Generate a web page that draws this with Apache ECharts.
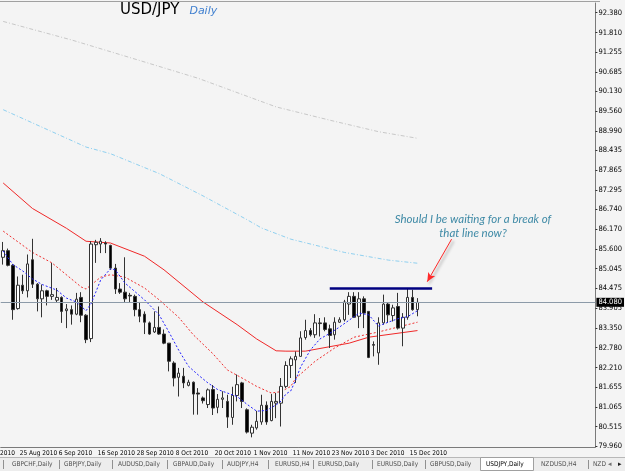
<!DOCTYPE html>
<html>
<head>
<meta charset="utf-8">
<title>USD/JPY Daily</title>
<script src="https://cdn.jsdelivr.net/npm/echarts@6/dist/echarts.min.js"></script>
<style>
    html, body { margin: 0; padding: 0; background: #f4f4f4; }
    #main { width: 625px; height: 471px; }
</style>
</head>
<body>
<div id="main"></div>
<script>
// trading days, 20 Aug .. 17 Dec 2010
const augDays = [20, 23, 24, 25, 26, 27, 30, 31];
const sepDays = [1, 2, 3, 6, 7, 8, 9, 10, 13, 14, 15, 16, 17, 20, 21, 22, 23, 24, 27, 28, 29, 30];
const octDays = [1, 4, 5, 6, 7, 8, 11, 12, 13, 14, 15, 18, 19, 20, 21, 22, 25, 26, 27, 28, 29];
const novDays = [1, 2, 3, 4, 5, 8, 9, 10, 11, 12, 15, 16, 17, 18, 19, 22, 23, 24, 25, 26, 29, 30];
const decDays = [1, 2, 3, 6, 7, 8, 9, 10, 13, 14, 15, 16, 17];
const emptySlots = 36;   // chart shift on the right

const opens = [85.37, 85.56, 85.14, 83.90, 84.57, 84.41, 85.30, 84.60, 84.18, 84.41,
    84.25, 84.14, 84.22, 83.84, 83.87, 83.74, 84.22, 83.71, 83.04, 85.73,
    85.75, 85.78, 85.71, 85.06, 84.46, 84.37, 84.28, 84.25, 83.87, 83.74,
    83.49, 83.23, 83.36, 83.17, 82.91, 82.34, 81.93, 81.96, 81.70, 81.79,
    81.48, 81.34, 81.15, 81.58, 81.07, 81.30, 81.24, 80.78, 81.41, 81.77,
    81.00, 80.33, 80.48, 80.65, 81.13, 80.69, 81.19, 81.19, 81.67, 82.27,
    82.43, 82.53, 83.07, 83.27, 83.15, 83.49, 83.49, 83.32, 83.15, 83.51,
    83.58, 84.03, 84.25, 83.68, 84.18, 83.82, 82.87, 82.63, 83.49, 84.03,
    83.70, 83.96, 83.34, 83.65, 84.22, 83.87];
const closes = [85.56, 85.14, 83.87, 84.57, 84.41, 85.18, 84.60, 84.18, 84.41, 84.25,
    84.30, 84.22, 83.82, 83.89, 83.74, 84.17, 83.71, 83.01, 85.75, 85.80,
    85.83, 85.75, 85.06, 84.46, 84.37, 84.18, 84.26, 83.87, 83.68, 83.51,
    83.17, 83.36, 83.17, 82.91, 82.39, 81.91, 82.05, 81.77, 81.79, 81.45,
    81.45, 81.26, 81.57, 81.05, 81.30, 81.34, 80.79, 81.41, 81.72, 81.24,
    80.36, 80.50, 80.67, 81.13, 80.65, 81.24, 81.24, 81.67, 82.27, 82.46,
    82.53, 83.06, 83.27, 83.15, 83.49, 83.47, 83.30, 83.13, 83.51, 83.58,
    84.09, 84.25, 83.65, 84.18, 83.77, 82.50, 82.85, 83.49, 84.03, 83.72,
    83.92, 83.34, 83.65, 84.22, 83.87, 84.08];
const lows = [85.16, 85.11, 83.58, 83.87, 84.32, 84.22, 84.49, 83.82, 83.65, 83.99,
    84.15, 84.06, 83.49, 83.34, 83.44, 83.71, 83.51, 82.91, 82.94, 85.21,
    85.49, 85.49, 85.01, 84.32, 84.32, 84.09, 84.09, 83.68, 83.51, 83.17,
    83.15, 83.20, 83.15, 82.88, 82.10, 81.67, 81.38, 81.62, 81.67, 80.86,
    80.86, 81.18, 81.05, 80.85, 80.90, 81.05, 80.48, 80.57, 81.24, 81.05,
    80.32, 80.21, 80.43, 80.57, 80.57, 80.67, 80.76, 80.52, 81.62, 81.91,
    81.77, 82.53, 83.01, 83.10, 83.06, 83.10, 83.25, 82.77, 83.01, 83.49,
    83.53, 83.72, 83.63, 83.34, 83.34, 82.48, 82.53, 82.29, 83.44, 83.49,
    83.53, 83.30, 82.82, 83.58, 83.84, 83.68];
const highs = [85.81, 85.62, 85.18, 84.82, 84.87, 85.45, 85.90, 84.63, 84.59, 84.44,
    85.21, 84.49, 84.25, 84.03, 83.99, 84.35, 84.37, 83.74, 85.83, 85.87,
    85.92, 85.83, 85.73, 85.18, 84.63, 85.37, 84.35, 84.30, 84.09, 83.82,
    83.53, 83.82, 83.96, 83.30, 82.91, 82.39, 82.20, 82.20, 81.86, 81.81,
    81.62, 81.38, 81.61, 81.71, 81.45, 81.53, 81.43, 81.66, 82.01, 81.80,
    81.04, 80.57, 80.97, 81.43, 81.24, 81.45, 81.48, 81.91, 82.39, 82.53,
    82.67, 83.25, 83.58, 83.34, 83.74, 83.63, 83.65, 83.44, 83.65, 83.65,
    84.15, 84.37, 84.37, 84.37, 84.25, 83.82, 82.96, 83.65, 84.30, 84.06,
    84.01, 84.35, 83.77, 84.47, 84.44, 84.20];

// moving averages: [bar index from 20 Aug, value]
const maFast = [[0, 85.55], [2, 85.16], [4, 84.98], [6, 84.75], [8, 84.59], [11, 84.43],
    [13, 84.20], [15, 84.09], [17, 83.84], [18, 84.03], [19, 84.37], [20, 84.72],
    [22, 85.04], [23, 85.01], [25, 84.63], [27, 84.39], [29, 84.15], [32, 83.72],
    [34, 83.23], [36, 82.71], [38, 82.25], [40, 82.00], [42, 81.77], [44, 81.58],
    [46, 81.48], [48, 81.38], [50, 81.16], [52, 80.96], [54, 80.98], [56, 81.14],
    [57, 81.25], [58, 81.45], [59, 81.54], [60, 81.85], [61, 82.22], [63, 82.71],
    [65, 83.03], [67, 83.19], [69, 83.37], [71, 83.57], [73, 83.77], [75, 83.72],
    [77, 83.40], [79, 83.51], [81, 83.61], [83, 83.67], [85, 83.84]];
const maMid = [[0, 86.12], [6, 85.51], [10, 85.21], [16, 84.52], [17, 84.46], [20, 84.80],
    [22, 84.87], [25, 84.80], [29, 84.49], [32, 84.15], [36, 83.65], [39, 83.15],
    [43, 82.61], [46, 82.14], [49, 81.91], [52, 81.67], [55, 81.48], [57, 81.52],
    [59, 81.67], [60, 81.90], [64, 82.39], [68, 82.77], [72, 83.08], [77, 83.23],
    [85, 83.51]];
const maSlow = [[0, 87.50], [6, 86.77], [13, 86.20], [17, 85.83], [22, 85.78], [29, 85.40],
    [33, 85.01], [41, 84.09], [48, 83.44], [52, 83.03], [56, 82.69], [58, 82.68],
    [62, 82.68], [71, 82.91], [75, 83.08], [85, 83.27]];
const ma100 = [[0, 89.60], [17, 88.53], [22, 88.34], [32, 87.77], [41, 87.13], [50, 86.45],
    [53, 86.21], [59, 85.89], [70, 85.51], [79, 85.29], [85, 85.20]];
const ma200 = [[0, 92.13], [14, 91.60], [28, 91.01], [40, 90.50], [56, 89.68], [67, 89.30],
    [77, 88.97], [85, 88.78]];

const priceTicks = [92.380, 91.810, 91.255, 90.685, 90.130, 89.560, 88.990, 88.435,
    87.865, 87.295, 86.740, 86.170, 85.600, 85.045, 84.475, 83.905, 83.350,
    82.780, 82.210, 81.655, 81.065, 80.515, 79.960];
const lastPrice = 84.080;
const resistance = 84.47;

const tabNames = ["GBPCHF,Daily", "GBPJPY,Daily", "AUDUSD,Daily", "GBPAUD,Daily", "AUDJPY,H4",
    "EURUSD,H4", "EURUSD,Daily", "EURUSD,Daily", "GBPUSD,Daily", "USDJPY,Daily", "NZDUSD,H4", "NZD"];

let dates = [];
augDays.forEach(d => dates.push(d + " Aug 2010"));
sepDays.forEach(d => dates.push(d + " Sep 2010"));
octDays.forEach(d => dates.push(d + " Oct 2010"));
novDays.forEach(d => dates.push(d + " Nov 2010"));
decDays.forEach(d => dates.push(d + " Dec 2010"));
const realBars = dates.length;
for (let i = 0; i < emptySlots; i++) {
    dates.push("shift" + i);
}

let candleData = [];
for (let i = 0; i < opens.length; i++) {
    candleData.push([opens[i], closes[i], lows[i], highs[i]]);
}

function maSeries(points) {
    let arr = dates.map(() => null);
    points.forEach(p => { arr[p[0]] = p[1]; });
    return arr;
}

const smallFont = "'Liberation Sans Narrow', 'DejaVu Sans Condensed', sans-serif";
// MT4 puts a date every 8 bars, 25 Aug is bar 3
const showLabel = (idx) => (idx - 3) % 8 === 0 && idx < realBars;

let tabEls = [];
const tabX = [12, 64, 118, 173, 227, 275, 318, 377, 430, 486, 541, 593];
const sepX = [3, 59, 112, 167, 222, 268, 313, 372, 425, 588];
tabEls.push({ type: "rect", shape: { x: 0, y: 457, width: 625, height: 14 }, style: { fill: "#ededed" } });
tabEls.push({ type: "line", shape: { x1: 0, y1: 457.5, x2: 625, y2: 457.5 }, style: { stroke: "#b8b8b8", lineWidth: 1 } });
tabEls.push({ type: "rect", shape: { x: 480.5, y: 457.5, width: 53, height: 13 }, style: { fill: "#ffffff", stroke: "#a0a0a0", lineWidth: 1 } });
sepX.forEach(x => {
    tabEls.push({ type: "line", shape: { x1: x + 0.5, y1: 460, x2: x + 0.5, y2: 469 }, style: { stroke: "#909090", lineWidth: 1 } });
});
tabNames.forEach((name, k) => {
    tabEls.push({
        type: "text", x: tabX[k], y: 464.5,
        style: { text: name, fill: k === 9 ? "#000" : "#505050", fontSize: 6.5, fontFamily: smallFont, textVerticalAlign: "middle" }
    });
});
tabEls.push({ type: "text", x: 608, y: 464.5, style: { text: "◂", fill: "#707070", fontSize: 7, textVerticalAlign: "middle" } });
tabEls.push({ type: "text", x: 618, y: 464.5, style: { text: "▸", fill: "#202020", fontSize: 7, textVerticalAlign: "middle" } });

let myChart = echarts.init(document.getElementById("main"), null, { renderer: "canvas" });

const option = {
    backgroundColor: "#f4f4f4",
    animation: false,
    title: {
        text: "{a|USD/JPY} {b|Daily}",
        left: 120,
        top: 1,
        padding: 0,
        textStyle: {
            rich: {
                a: { fontSize: 15, color: "#000", fontWeight: "normal", fontFamily: "DejaVu Sans" },
                b: { fontSize: 11, color: "#3f7fcf", fontWeight: "normal", fontStyle: "italic", fontFamily: "DejaVu Sans", padding: [2, 0, 0, 5] }
            }
        }
    },
    grid: {
        left: 0.74,
        right: 25,
        top: 3,
        bottom: 24
    },
    xAxis: {
        type: "category",
        data: dates,
        boundaryGap: true,
        axisLine: { lineStyle: { color: "#7a7a7a", width: 1 } },
        axisTick: {
            alignWithLabel: true,
            interval: (idx) => showLabel(idx),
            length: 3,
            lineStyle: { color: "#333" }
        },
        axisLabel: {
            interval: (idx) => showLabel(idx),
            align: "left",
            margin: 3,
            padding: [0, 0, 0, 2],
            fontSize: 6.5,
            fontFamily: smallFont,
            color: "#000"
        },
        splitLine: { show: false }
    },
    yAxis: {
        type: "value",
        position: "right",
        min: 79.933,
        max: 92.658,
        axisLine: { show: true, lineStyle: { color: "#7a7a7a" } },
        axisTick: { show: true, length: 2, customValues: priceTicks, lineStyle: { color: "#333" } },
        axisLabel: {
            customValues: priceTicks,
            margin: 3,
            fontSize: 7.5,
            fontFamily: smallFont,
            color: "#000",
            formatter: (v) => v.toFixed(3)
        },
        splitLine: { show: false }
    },
    series: [
        {
            name: "ma200",
            type: "line",
            data: maSeries(ma200),
            connectNulls: true,
            symbol: "none",
            lineStyle: { color: "#c8c8c8", width: 1, type: [4, 2, 1, 2] },
            z: 1
        },
        {
            name: "ma100",
            type: "line",
            data: maSeries(ma100),
            connectNulls: true,
            symbol: "none",
            lineStyle: { color: "#8fd0f0", width: 1, type: [4, 2, 1, 2] },
            z: 1
        },
        {
            name: "ma50",
            type: "line",
            data: maSeries(maSlow),
            connectNulls: true,
            symbol: "none",
            lineStyle: { color: "#f02828", width: 1 },
            z: 1
        },
        {
            name: "ma21",
            type: "line",
            data: maSeries(maMid),
            connectNulls: true,
            symbol: "none",
            lineStyle: { color: "#f03030", width: 1, type: [2, 2] },
            z: 1
        },
        {
            name: "USDJPY",
            type: "candlestick",
            data: candleData,
            barWidth: 3,
            itemStyle: {
                color: "#ffffff",
                color0: "#000000",
                borderColor: "#333333",
                borderColor0: "#333333",
                borderWidth: 1
            },
            markLine: {
                silent: true,
                symbol: "none",
                animation: false,
                data: [
                    {
                        yAxis: lastPrice,
                        lineStyle: { color: "#8c9aa8", width: 1, type: "solid" },
                        label: {
                            show: true,
                            position: "end",
                            distance: 1,
                            formatter: lastPrice.toFixed(3),
                            backgroundColor: "#000",
                            color: "#fff",
                            fontSize: 7.5,
                            fontFamily: smallFont,
                            padding: [1, 2, 0, 2]
                        }
                    },
                    [
                        { coord: [67, resistance], symbol: "none" },
                        { coord: [88, resistance], symbol: "none", lineStyle: { color: "#000080", width: 2.5, type: "solid" }, label: { show: false } }
                    ],
                    [
                        { coord: [92, 85.89], symbol: "none" },
                        {
                            coord: [87, 84.67], symbol: "arrow", symbolSize: [6, 9],
                            lineStyle: { color: "#ff2a2a", width: 1, type: "solid", shadowColor: "rgba(0,0,0,0.45)", shadowBlur: 3, shadowOffsetX: 2, shadowOffsetY: 2 },
                            itemStyle: { color: "#ff2a2a" },
                            label: { show: false }
                        }
                    ]
                ]
            },
            z: 2
        },
        {
            name: "ma5",
            type: "line",
            data: maSeries(maFast),
            connectNulls: true,
            symbol: "none",
            lineStyle: { color: "#1f1fff", width: 1, type: [2, 2] },
            z: 3
        }
    ],
    graphic: [
        { type: "line", shape: { x1: 0, y1: 1.5, x2: 600, y2: 1.5 }, style: { stroke: "#a0a0a0", lineWidth: 1 } },
        { type: "text", x: 0, y: 453.5, style: { text: "2010", fill: "#000", fontSize: 6.5, fontFamily: smallFont, textVerticalAlign: "middle" } },
        {
            type: "text",
            x: 473,
            y: 212,
            style: {
                text: "Should I be waiting for a break of\nthat line now?",
                textAlign: "center",
                fill: "#3f8aa6",
                fontSize: 11.5,
                fontStyle: "italic",
                fontFamily: "Lato",
                lineHeight: 14
            }
        },
        { type: "group", children: tabEls }
    ]
};

myChart.setOption(option);
window.addEventListener("resize", function () {
    myChart.resize();
});
</script>
</body>
</html>
